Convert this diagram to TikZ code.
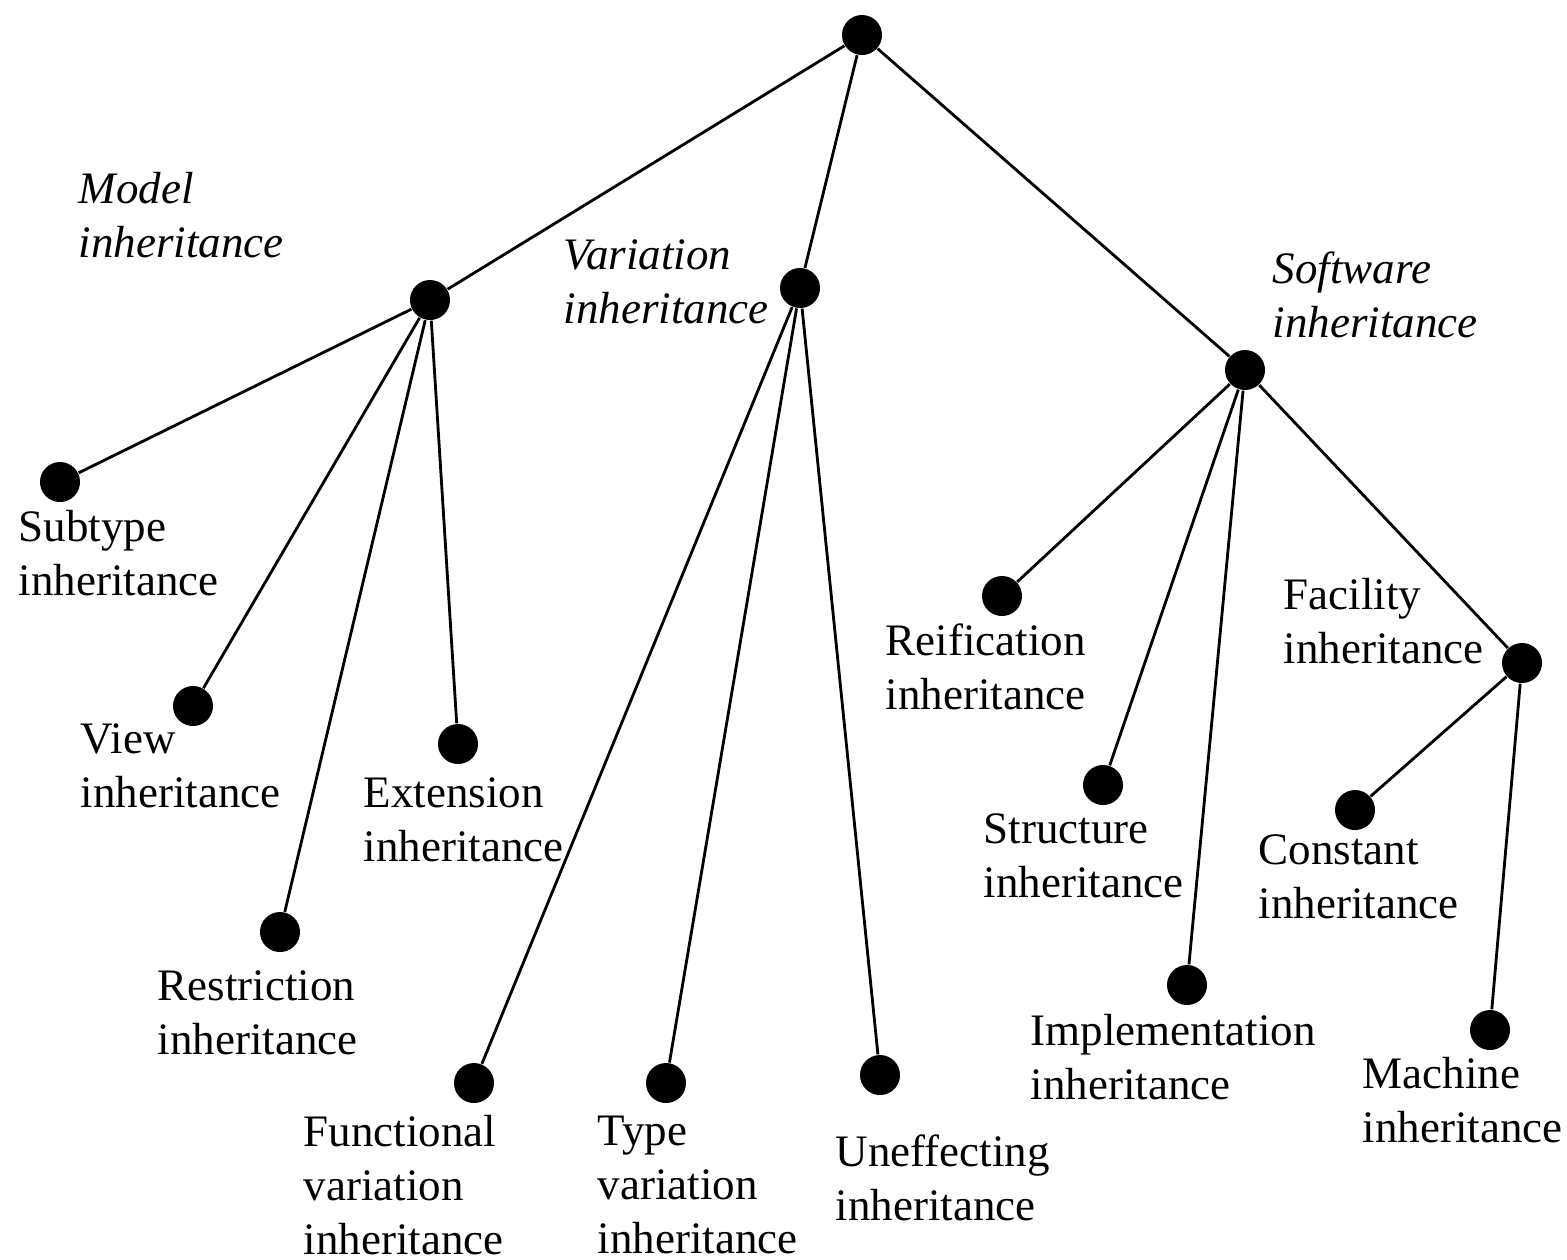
\documentclass[tikz,border=0pt]{standalone}
\usepackage{fontspec}
\setmainfont{Liberation Serif}
\tikzset{
  dot/.style={circle, fill=black, inner sep=0pt, minimum size=0.4cm},
  kind/.style={align=left, anchor=west, inner sep=0pt, font=\fontsize{12.8}{15.3}\selectfont},
  family/.style={kind, font=\fontsize{12.8}{15.3}\selectfont\itshape},
  edge/.style={line width=0.8pt}
}
\begin{document}
\begin{tikzpicture}[x=0.01cm, y=-0.01cm]
	\useasboundingbox (0,0) rectangle (1567,1259);
	% dots
	\node [dot] (root) at (862,35) {};
	\node [dot] (model) at (430,300) {};
	\node [dot] (variation) at (800,288) {};
	\node [dot] (software) at (1245,370) {};
	\node [dot] (subtype) at (60,482) {};
	\node [dot] (view) at (193,706) {};
	\node [dot] (restriction) at (280,932) {};
	\node [dot] (extension) at (458,744) {};
	\node [dot] (functional) at (474,1083) {};
	\node [dot] (type) at (666,1083) {};
	\node [dot] (uneffecting) at (880,1075) {};
	\node [dot] (reification) at (1002,596) {};
	\node [dot] (structure) at (1103,785) {};
	\node [dot] (implementation) at (1187,985) {};
	\node [dot] (facility) at (1522,663) {};
	\node [dot] (constant) at (1355,810) {};
	\node [dot] (machine) at (1490,1030) {};
	% labels
	\node [family] (modeltext) at (78,215) {Model\\inheritance};
	\node [family] (variationtext) at (563,282) {Variation\\inheritance};
	\node [family] (softwaretext) at (1272,295) {Software\\inheritance};
	\node [kind] (subtypetext) at (18,553) {Subtype\\inheritance};
	\node [kind] (viewtext) at (80,766) {View\\inheritance};
	\node [kind] (restrictiontext) at (157,1013) {Restriction\\inheritance};
	\node [kind] (extensiontext) at (363,820) {Extension\\inheritance};
	\node [kind] (functionaltext) at (303,1185) {Functional\\variation\\inheritance};
	\node [kind] (typetext) at (597,1185) {Type\\variation\\inheritance};
	\node [kind] (uneffectingtext) at (835,1178) {Uneffecting\\inheritance};
	\node [kind] (reificationtext) at (885,667) {Reification\\inheritance};
	\node [kind] (structuretext) at (983,856) {Structure\\inheritance};
	\node [kind] (implementationtext) at (1030,1057) {Implementation\\inheritance};
	\node [kind] (facilitytext) at (1283,621) {Facility\\inheritance};
	\node [kind] (constanttext) at (1258,877) {Constant\\inheritance};
	\node [kind] (machinetext) at (1362,1100) {Machine\\inheritance};
	% edges
	\draw [edge] (root) -- (model);
	\draw [edge] (root) -- (variation);
	\draw [edge] (root) -- (software);
	\draw [edge] (model) -- (subtype);
	\draw [edge] (model) -- (view);
	\draw [edge] (model) -- (restriction);
	\draw [edge] (model) -- (extension);
	\draw [edge] (variation) -- (functional);
	\draw [edge] (variation) -- (type);
	\draw [edge] (variation) -- (uneffecting);
	\draw [edge] (software) -- (reification);
	\draw [edge] (software) -- (structure);
	\draw [edge] (software) -- (implementation);
	\draw [edge] (software) -- (facility);
	\draw [edge] (facility) -- (constant);
	\draw [edge] (facility) -- (machine);
\end{tikzpicture}
\end{document}
